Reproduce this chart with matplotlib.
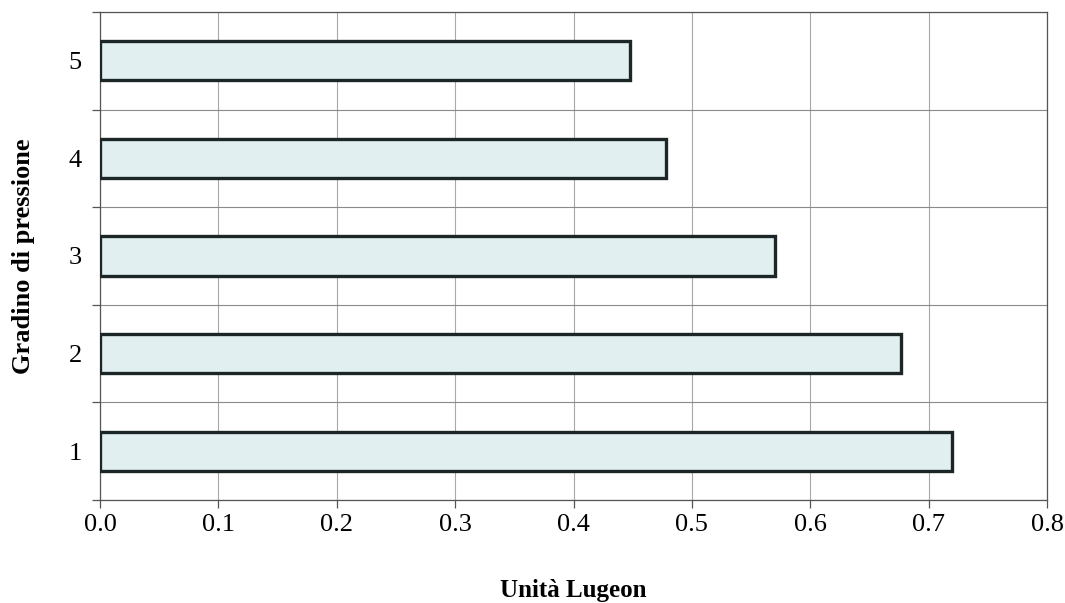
import matplotlib
matplotlib.use("Agg")
import matplotlib.pyplot as plt
import numpy as np

# Pressure steps and Lugeon values
steps = [1, 2, 3, 4, 5]
lugeon = [0.72, 0.677, 0.57, 0.478, 0.448]
x_ticks = [0.0, 0.1, 0.2, 0.3, 0.4, 0.5, 0.6, 0.7, 0.8]
x_tick_labels = ["0.0", "0.1", "0.2", "0.3", "0.4", "0.5", "0.6", "0.7", "0.8"]

plt.rcParams["font.family"] = ["Liberation Serif", "DejaVu Serif"]

fig = plt.figure(figsize=(10.65, 6.03), dpi=100)
ax = fig.add_axes([100 / 1065, 1 - 500 / 603, 947 / 1065, 488 / 603])

ax.barh(steps, lugeon, height=0.4, color="#e2eff0", edgecolor="#1c2626",
        linewidth=2.4, zorder=3)

ax.set_xlim(0, 0.8)
ax.set_ylim(0.5, 5.5)

ax.set_xticks(x_ticks)
ax.set_xticklabels(x_tick_labels, fontsize=19)
ax.set_yticks(steps)
ax.set_yticklabels([str(s) for s in steps], fontsize=19)
ax.set_yticks(np.arange(0.5, 5.6, 1.0), minor=True)

ax.tick_params(axis="y", which="major", length=0, pad=13)
ax.tick_params(axis="y", which="minor", length=5.8, color="#555555", width=0.9)
ax.tick_params(axis="x", which="major", length=5.8, color="#555555", width=0.9, pad=4)

ax.grid(True, axis="x", which="major", color="#a8a8a8", linewidth=0.8, zorder=0)
ax.grid(True, axis="y", which="minor", color="#8a8a8a", linewidth=0.8, zorder=0)

for side in ["top", "right", "bottom", "left"]:
    ax.spines[side].set_color("#555555")
    ax.spines[side].set_linewidth(0.9)

ax.set_xlabel("Unità Lugeon", fontsize=18, fontweight="bold", labelpad=31)
ax.set_ylabel("Gradino di pressione", fontsize=19, fontweight="bold", labelpad=24)

fig.savefig("out.png", dpi=100)
